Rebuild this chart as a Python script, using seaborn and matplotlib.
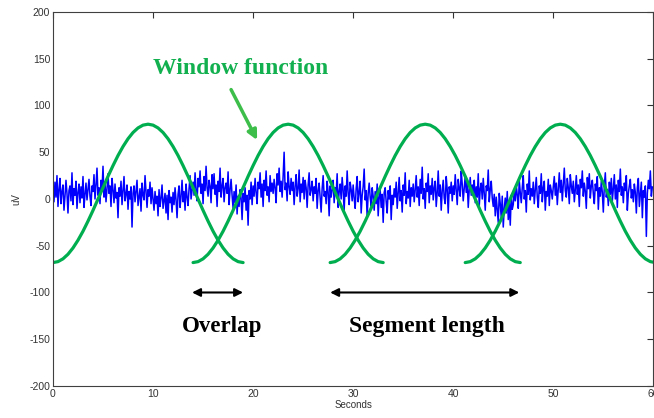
import numpy as np
import pandas as pd
import seaborn as sns
import matplotlib.pyplot as plt

# --- Data ---
# EEG-like signal, 10 samples per second (2 s per row)
signal_uv = [
    12, -3, 18, 2, 25, -8, 10, 22, -5, 8, 15, -12, 3, 20, 6, -15, 9, 14, -2, 28,
    -6, 11, 4, 19, -10, 7, 16, -4, 13, 1, 24, -9, 5, 17, -1, 10, 21, 3, -7, 14,
    8, 26, 0, 15, 33, 4, 12, -5, 20, 9, 35, 2, 18, -3, 11, 27, 6, 14, -8, 22,
    10, -4, 16, 1, 7, -20, 12, 3, 19, -6, 9, 24, -2, 5, 15, -11, 8, 0, 13, -30,
    6, 14, -3, 9, 20, -7, 2, 11, -13, 17, 4, -1, 25, 7, -9, 10, 3, 18, -5, 12,
    0, -12, 8, -5, 3, -18, 10, -8, 1, 15, -10, -2, 6, -15, 4, -22, 9, -4, 2, -14,
    7, -6, 12, -1, -20, 5, 14, -9, 3, 20, -3, 8, -12, 16, 2, -7, 11, 25, 0, 9,
    18, 4, 28, 10, -2, 22, 13, 30, 6, 16, -5, 24, 9, 35, 12, 3, 20, 14, -4, 26,
    11, 27, 5, 15, -8, 19, 8, 33, 2, 14, 22, -3, 12, 17, 6, 29, -6, 10, 21, 4,
    -10, 8, -4, 15, -16, 3, -8, 10, 1, -22, 6, -3, 12, -12, 4, -28, 9, 0, 18, -6,
    14, 3, 22, 7, -5, 18, 11, 28, 2, 16, -8, 20, 9, 30, 4, 13, -3, 25, 8, 17,
    6, 21, 12, -4, 27, 15, 33, 8, 19, 2, 24, 50, 10, 17, -2, 29, 13, 5, 22, 9,
    18, -6, 14, 26, 3, 11, 31, -3, 16, 7, 23, 0, 20, 12, -9, 15, 28, 4, 10, 19,
    -2, 13, 6, 22, -10, 9, 17, 1, -14, 11, 25, 3, 8, -5, 19, 7, -18, 14, 2, 10,
    20, -4, 12, 5, 27, -9, 8, 16, 0, 23, 9, -12, 14, 3, 30, 6, -6, 18, 10, -2,
    15, 1, -10, 11, 24, -3, 7, 19, -15, 4, 13, 32, -1, 9, -20, 6, 17, 2, -8, 12,
    3, -12, 8, -5, 16, -18, 2, 10, -9, 5, -25, 7, 12, -3, -15, 9, 0, 14, -22, 4,
    -6, 11, 2, 18, -10, 6, 23, -2, 9, -14, 15, 4, 28, -5, 8, 1, 20, -8, 12, 3,
    16, -3, 10, 25, 2, 13, -7, 21, 6, 34, 0, 11, -10, 17, 8, 27, -4, 14, 5, 22,
    -1, 12, 19, -8, 7, 30, 3, 15, -12, 9, 20, 1, -5, 24, 10, -15, 13, 6, 18, -2,
    14, 5, 26, 9, -6, 21, 11, 3, 30, 16, -2, 12, 25, 7, 18, -9, 10, 23, 4, 15,
    8, 20, -4, 13, 2, 27, -8, 11, 17, 0, 22, 6, -12, 14, 9, 31, -3, 10, 19, 1,
    -8, 5, -18, 2, -12, -25, 6, -5, -20, 3, -30, -10, 1, -15, 8, -22, -3, -28, 4, -11,
    -6, 10, -2, 15, 4, -10, 20, 7, -4, 12, 25, 0, 9, -14, 16, 5, 30, -1, 11, 3,
    18, -5, 10, 23, 2, -9, 14, 6, 27, -3, 12, 19, -12, 8, 3, 21, -7, 15, 9, 0,
    13, 24, 4, 17, -6, 11, 28, 7, 20, -2, 15, 33, 9, 2, 22, 12, -5, 26, 14, 6,
    19, -3, 10, 25, 5, 15, -8, 21, 12, 30, 3, 17, 8, -10, 23, 11, 27, 1, 14, 20,
    6, -5, 16, 9, 24, -11, 12, 3, 19, 7, -14, 14, 28, 2, 10, -7, 18, 5, 22, -2,
    11, 26, 0, 15, -9, 20, 8, 32, 4, 13, -4, 17, 9, 25, -12, 6, 14, 21, 1, 10,
    -3, 16, 7, -15, 12, 22, -8, 5, 18, -20, 9, 2, 14, -40, 6, 20, 11, 30, 3, 13,
]
sample_rate = 10  # samples per second

# Window curve read at 0.5 s steps across one 19 s window
window_shape = [
    -68, -67.0, -64.0, -59.1, -52.4, -44.1, -34.5, -23.7, -12.2, -0.1,
    12.1, 24.2, 35.7, 46.5, 56.1, 64.4, 71.1, 76.0, 79.0, 80.0,
    79.0, 76.0, 71.1, 64.4, 56.1, 46.5, 35.7, 24.2, 12.1, -0.1,
    -12.2, -23.7, -34.5, -44.1, -52.4, -59.1, -64.0, -67.0, -68,
]
window_step = 0.5
window_starts = [0, 14.0, 27.7, 41.2]

overlap_span = (13.9, 19.0)
segment_span = (27.7, 46.6)

signal = pd.DataFrame({"t": np.arange(len(signal_uv)) / sample_rate, "uv": signal_uv})

# --- Plot ---
sns.set_style("white")
plt.rcParams["font.family"] = ["Liberation Sans", "DejaVu Sans"]
plt.rcParams["axes.unicode_minus"] = False

fig = plt.figure(figsize=(6.54, 4.18), dpi=100)
ax = fig.add_axes([0.081, 0.0766, 0.918, 0.8947])

sns.lineplot(data=signal, x="t", y="uv", color="#0000ff", lw=1.1, ax=ax)

green = "#00ad4f"
for start in window_starts:
    win = pd.DataFrame({"t": start + np.arange(len(window_shape)) * window_step,
                        "uv": window_shape})
    sns.lineplot(data=win, x="t", y="uv", color=green, lw=2.3, ax=ax)

arrow = dict(arrowstyle="<|-|>", color="black", lw=1.5, mutation_scale=12,
             shrinkA=0, shrinkB=0)
ax.annotate("", xy=(overlap_span[0], -100), xytext=(overlap_span[1], -100), arrowprops=arrow)
ax.annotate("", xy=(segment_span[0], -100), xytext=(segment_span[1], -100), arrowprops=arrow)

serif = ["Liberation Serif", "DejaVu Serif"]
ax.text(16.9, -136, "Overlap", ha="center", va="center", fontsize=16.5,
        fontweight="bold", family=serif, color="black")
ax.text(37.4, -136, "Segment length", ha="center", va="center", fontsize=17,
        fontweight="bold", family=serif, color="black")
ax.text(10.0, 140, "Window function", ha="left", va="center", fontsize=17,
        fontweight="bold", family=serif, color="#12b04f")
ax.annotate("", xy=(20.4, 63), xytext=(17.8, 117),
            arrowprops=dict(arrowstyle="-|>", color="#3dbe4b", lw=2.5,
                            mutation_scale=14, shrinkA=0, shrinkB=0))

ax.set_xlim(0, 60)
ax.set_ylim(-200, 200)
ax.set_xticks(range(0, 61, 10))
ax.set_yticks(range(-200, 201, 50))
ax.tick_params(direction="in", length=4, width=0.8, top=True, right=True,
               labelsize=7.5, labelcolor="#333333", color="#333333", pad=2)
for s in ax.spines.values():
    s.set_color("#404040")
    s.set_linewidth(0.8)
ax.set_xlabel("Seconds", fontsize=7, color="#333333", labelpad=1)
ax.set_ylabel("uV", fontsize=7, color="#333333", labelpad=6)

fig.savefig("out.png", dpi=100)
